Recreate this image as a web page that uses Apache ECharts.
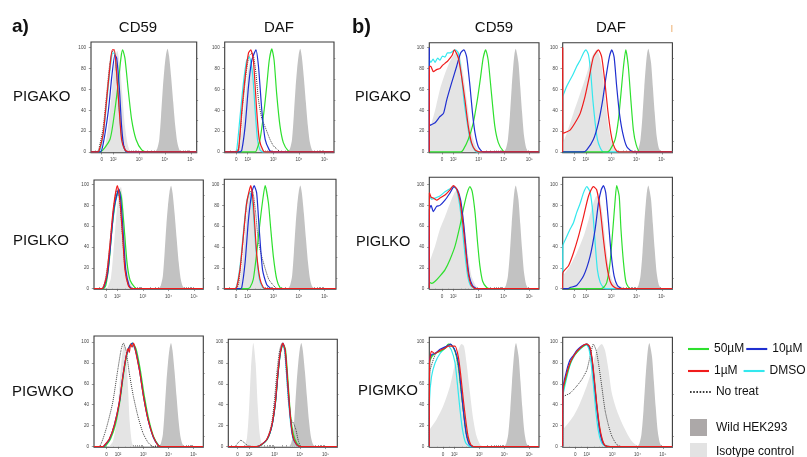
<!DOCTYPE html>
<html><head><meta charset="utf-8">
<script src="https://cdn.jsdelivr.net/npm/echarts@6/dist/echarts.min.js"></script>
<style>html,body{margin:0;padding:0;background:#fff}#c{width:807px;height:457px}</style>
</head><body><div id="c"></div><script>
// ---------- tick labels ----------
const xTickVals = [1.55, 2, 3, 4, 5];
const xTickText = ['0', '10²', '10³', '10⁴', '10⁵'];
const yTickVals = [0, 20, 40, 60, 80, 100];
const yMinorVals = [10, 30, 50, 70, 90];

// ---------- controls (shared shapes) ----------
const wildA_CD59 = [[3.62,0],[3.7,3],[3.78,12],[3.85,35],[3.92,62],[3.98,80],[4.04,93],[4.1,99],[4.16,92],[4.24,72],[4.32,48],[4.4,25],[4.48,9],[4.56,2],[4.65,0]];
const wildA_DAF = [[3.57,0],[3.65,3],[3.73,12],[3.8,35],[3.87,62],[3.93,80],[3.99,93],[4.05,99],[4.11,92],[4.19,72],[4.27,48],[4.35,25],[4.43,9],[4.51,2],[4.6,0]];
const wildB = [[4.0,0],[4.08,3],[4.16,12],[4.24,35],[4.31,62],[4.37,82],[4.42,94],[4.47,99],[4.52,94],[4.58,85],[4.65,62],[4.72,38],[4.8,15],[4.88,4],[4.96,0]];

// ---------- a) PIGAKO ----------
const aA_CD59_iso = [[1.55,0],[1.7,8],[1.85,35],[1.95,60],[2.05,85],[2.15,97],[2.25,85],[2.35,55],[2.45,25],[2.55,8],[2.65,0]];
const aA_CD59_nt = [[1.38,0],[1.45,4],[1.6,22],[1.73,52],[1.86,84],[1.95,96],[2.03,97],[2.12,78],[2.22,44],[2.32,15],[2.45,3],[2.6,0]];
const aA_CD59_dmso = [[1.42,0],[1.5,3],[1.63,20],[1.76,52],[1.89,83],[1.98,95],[2.06,94],[2.15,70],[2.25,35],[2.34,10],[2.47,1],[2.6,0]];
const aA_CD59_50 = [[1.48,0],[1.87,12],[2.06,40],[2.19,66],[2.3,91],[2.36,98],[2.45,90],[2.58,59],[2.71,31],[2.88,12],[3.1,2],[3.29,0]];
const aA_CD59_10 = [[1.5,0],[1.61,8],[1.81,40],[1.94,72],[2.06,93],[2.13,90],[2.23,63],[2.32,25],[2.41,5],[2.52,0]];
const aA_CD59_1 = [[1.4,0],[1.46,2],[1.61,18],[1.74,50],[1.87,82],[1.96,98],[2.04,98],[2.13,75],[2.23,40],[2.32,12],[2.45,2],[2.6,0]];

const aA_DAF_iso = [[1.55,0],[1.7,10],[1.85,40],[1.97,68],[2.08,85],[2.18,80],[2.28,55],[2.38,28],[2.5,8],[2.62,0]];
const aA_DAF_nt = [[1.55,0],[1.65,4],[1.78,38],[1.92,72],[2.05,92],[2.18,95],[2.3,80],[2.42,50],[2.55,32],[2.68,24],[2.87,12],[3.0,6],[3.13,3],[3.3,0]];
const aA_DAF_dmso = [[1.5,0],[1.57,2],[1.7,34],[1.83,66],[1.96,88],[2.06,91],[2.19,75],[2.29,40],[2.38,12],[2.48,2],[2.6,0]];
const aA_DAF_50 = [[2.3,0],[2.35,2],[2.48,12],[2.64,40],[2.74,63],[2.84,88],[2.94,99],[3.03,88],[3.13,56],[3.26,25],[3.39,9],[3.58,1],[3.7,0]];
const aA_DAF_10 = [[1.7,0],[1.77,2],[1.9,25],[2.03,63],[2.16,88],[2.32,98],[2.42,82],[2.55,40],[2.68,12],[2.84,2],[2.95,0]];
const aA_DAF_1 = [[1.55,0],[1.64,2],[1.77,40],[1.9,72],[2.03,95],[2.12,98],[2.22,88],[2.35,40],[2.45,12],[2.61,1],[2.7,0]];

// ---------- a) PIGLKO ----------
const aL_CD59_iso = [[1.6,0],[1.75,10],[1.88,45],[1.98,75],[2.08,94],[2.14,98],[2.22,85],[2.3,55],[2.4,22],[2.5,6],[2.62,0]];
const aL_CD59_nt = [[1.4,0],[1.5,5],[1.62,22],[1.74,50],[1.86,78],[1.98,95],[2.08,88],[2.2,52],[2.3,20],[2.42,4],[2.55,0]];
const aL_CD59_dmso = [[1.42,0],[1.52,4],[1.65,22],[1.78,55],[1.92,82],[2.04,92],[2.12,86],[2.22,52],[2.32,18],[2.45,3],[2.58,0]];
const aL_CD59_50 = [[1.45,0],[1.55,3],[1.68,25],[1.8,60],[1.95,88],[2.07,95],[2.16,88],[2.27,58],[2.38,25],[2.5,8],[2.69,1],[2.8,0]];
const aL_CD59_10 = [[1.42,0],[1.5,3],[1.62,14],[1.74,43],[1.87,77],[2.06,96],[2.14,84],[2.24,50],[2.33,18],[2.46,3],[2.58,0]];
const aL_CD59_1 = [[1.4,0],[1.45,1],[1.58,12],[1.71,41],[1.84,76],[2.0,99],[2.1,85],[2.21,50],[2.3,18],[2.43,3],[2.55,0]];

const aL_DAF_iso = [[1.6,0],[1.72,10],[1.85,40],[1.97,72],[2.08,90],[2.18,85],[2.28,60],[2.38,30],[2.5,8],[2.62,0]];
const aL_DAF_nt = [[1.55,0],[1.65,5],[1.78,35],[1.92,72],[2.05,92],[2.18,94],[2.3,75],[2.42,45],[2.58,28],[2.82,9],[3.08,1],[3.2,0]];
const aL_DAF_dmso = [[1.5,0],[1.58,3],[1.72,25],[1.85,58],[1.97,85],[2.09,92],[2.2,80],[2.32,38],[2.45,10],[2.58,1],[2.7,0]];
const aL_DAF_50 = [[2.0,0],[2.09,1],[2.22,9],[2.35,34],[2.45,57],[2.57,82],[2.68,99],[2.81,82],[2.9,57],[3.0,31],[3.13,9],[3.26,1],[3.4,0]];
const aL_DAF_10 = [[1.7,0],[1.77,1],[1.9,25],[2.03,66],[2.16,92],[2.25,99],[2.35,92],[2.45,57],[2.58,18],[2.74,4],[2.94,0]];
const aL_DAF_1 = [[1.5,0],[1.57,1],[1.7,18],[1.83,50],[1.96,82],[2.12,99],[2.22,82],[2.35,34],[2.48,9],[2.61,1],[2.7,0]];

// ---------- a) PIGWKO ----------
const aW_CD59_iso = [[1.65,0],[1.8,5],[1.95,25],[2.05,55],[2.15,85],[2.25,99],[2.33,85],[2.4,55],[2.47,22],[2.55,4],[2.62,0]];
const aW_CD59_nt = [[1.25,0],[1.52,16],[1.79,42],[1.99,73],[2.12,92],[2.21,99],[2.32,92],[2.45,70],[2.61,48],[2.79,29],[2.99,13],[3.19,4],[3.39,0]];
const aW_CD59_dmso = [[1.4,0],[1.5,2],[1.68,8],[1.87,21],[2.06,43],[2.2,68],[2.33,86],[2.46,95],[2.56,98],[2.7,91],[2.86,72],[3.02,47],[3.2,25],[3.4,9],[3.6,1],[3.7,0]];
const aW_CD59_50 = [[1.45,0],[1.52,1],[1.7,7],[1.9,21],[2.08,44],[2.22,69],[2.35,88],[2.48,97],[2.58,99],[2.72,93],[2.88,74],[3.04,49],[3.22,26],[3.42,9],[3.62,1],[3.72,0]];
const aW_CD59_10 = [[1.4,0],[1.47,1],[1.66,7],[1.86,21],[2.06,43],[2.2,68],[2.33,87],[2.46,96],[2.57,99],[2.7,92],[2.86,72],[3.02,47],[3.2,25],[3.4,9],[3.6,1],[3.7,0]];
const aW_CD59_1 = [[1.4,0],[1.45,1],[1.65,7],[1.85,20],[2.05,42],[2.19,67],[2.32,86],[2.4,94],[2.45,90],[2.5,98],[2.56,95],[2.62,99],[2.69,92],[2.85,73],[3.01,48],[3.19,26],[3.39,10],[3.59,1],[3.7,0]];

const aW_DAF_iso = [[1.82,0],[1.92,8],[2.0,35],[2.08,75],[2.17,99],[2.26,80],[2.34,40],[2.42,12],[2.5,2],[2.58,0]];
const aW_DAF_nt = [[1.45,0],[1.55,3],[1.68,6],[1.8,4],[1.95,1],[2.2,0],[2.45,1],[2.7,7],[2.89,22],[3.0,45],[3.1,72],[3.2,92],[3.3,99],[3.38,94],[3.46,72],[3.55,42],[3.65,26],[3.75,22],[3.84,16],[3.94,5],[4.05,0]];
const aW_DAF_dmso = [[2.3,0],[2.44,1],[2.71,7],[2.9,20],[3.04,43],[3.13,68],[3.23,90],[3.32,98],[3.41,90],[3.5,60],[3.61,27],[3.71,9],[3.85,2],[4.0,0]];
const aW_DAF_50 = [[2.3,0],[2.45,1],[2.72,7],[2.9,20],[3.04,42],[3.13,67],[3.23,89],[3.34,98],[3.43,93],[3.52,66],[3.62,32],[3.74,12],[3.88,3],[4.02,0]];
const aW_DAF_10 = [[2.3,0],[2.44,1],[2.71,7],[2.9,20],[3.04,43],[3.13,68],[3.23,90],[3.33,99],[3.42,91],[3.51,62],[3.62,28],[3.72,9],[3.86,2],[4.0,0]];
const aW_DAF_1 = [[2.3,0],[2.43,1],[2.7,7],[2.89,20],[3.03,42],[3.12,67],[3.22,89],[3.33,99],[3.42,92],[3.51,64],[3.62,29],[3.72,10],[3.86,2],[4.0,0]];

// ---------- b) PIGAKO ----------
const bA_CD59_iso = [[1.05,20],[1.28,40],[1.47,60],[1.67,75],[1.87,87],[2.07,95],[2.2,96],[2.39,75],[2.53,50],[2.66,28],[2.79,12],[2.92,4],[3.05,0]];
const bA_CD59_dmso = [[1.05,0],[1.055,88],[1.11,86],[1.2,89],[1.28,86],[1.38,90],[1.47,88],[1.57,92],[1.67,91],[1.77,95],[1.87,95],[2.0,97],[2.07,98],[2.2,95],[2.33,72],[2.42,50],[2.53,31],[2.66,12],[2.79,4],[2.92,0]];
const bA_CD59_50 = [[2.3,0],[2.39,2],[2.59,12],[2.79,28],[2.95,50],[3.08,72],[3.18,90],[3.28,98],[3.38,88],[3.51,56],[3.64,25],[3.78,9],[3.97,1],[4.1,0]];
const bA_CD59_10 = [[1.05,0],[1.051,100],[1.056,25],[1.11,26],[1.28,28],[1.47,34],[1.61,37],[1.74,50],[1.93,66],[2.13,82],[2.29,95],[2.42,98],[2.53,91],[2.66,63],[2.76,37],[2.86,18],[2.99,5],[3.18,0]];
const bA_CD59_1 = [[1.05,0],[1.055,82],[1.11,82],[1.21,77],[1.34,79],[1.47,80],[1.57,83],[1.67,85],[1.77,87],[1.87,90],[1.96,93],[2.04,98],[2.2,90],[2.33,72],[2.46,50],[2.59,25],[2.72,9],[2.86,2],[3.05,0]];

const bA_DAF_iso = [[1.09,8],[1.25,18],[1.51,37],[1.78,56],[2.04,75],[2.24,91],[2.43,98],[2.63,82],[2.76,53],[2.89,25],[3.03,9],[3.16,2],[3.3,0]];
const bA_DAF_dmso = [[1.09,0],[1.095,53],[1.12,55],[1.25,63],[1.38,69],[1.51,75],[1.64,82],[1.78,88],[1.91,95],[2.01,98],[2.11,93],[2.2,75],[2.28,50],[2.37,28],[2.46,12],[2.57,4],[2.7,0]];
const bA_DAF_50 = [[2.85,0],[2.96,2],[3.16,12],[3.29,31],[3.39,56],[3.49,82],[3.58,98],[3.68,82],[3.78,50],[3.88,21],[3.99,7],[4.14,0]];
const bA_DAF_10 = [[1.9,0],[2.04,2],[2.3,12],[2.5,28],[2.67,50],[2.8,72],[2.93,91],[3.03,98],[3.12,91],[3.22,63],[3.33,37],[3.46,18],[3.62,5],[3.88,0]];
const bA_DAF_1 = [[1.09,0],[1.091,100],[1.12,18],[1.38,21],[1.58,28],[1.78,37],[1.97,53],[2.14,72],[2.3,91],[2.5,98],[2.63,91],[2.76,66],[2.87,40],[2.99,18],[3.09,7],[3.22,1],[3.42,0]];

// ---------- b) PIGLKO ----------
const bL_CD59_iso = [[1.05,25],[1.28,41],[1.47,57],[1.67,69],[1.87,82],[2.07,93],[2.2,95],[2.33,82],[2.46,57],[2.59,31],[2.72,12],[2.86,4],[2.99,0]];
const bL_CD59_dmso = [[1.05,0],[1.055,89],[1.15,86],[1.28,87],[1.47,89],[1.67,93],[1.87,96],[2.0,98],[2.13,95],[2.26,79],[2.36,57],[2.47,31],[2.57,12],[2.68,3],[2.86,0]];
const bL_CD59_50 = [[1.05,0],[1.055,6],[1.15,5],[1.28,7],[1.47,12],[1.67,18],[1.87,28],[2.07,41],[2.26,60],[2.42,79],[2.55,92],[2.66,98],[2.75,93],[2.86,73],[2.96,44],[3.05,22],[3.16,7],[3.32,1],[3.45,0]];
const bL_CD59_10 = [[1.05,0],[1.055,76],[1.12,80],[1.21,74],[1.34,79],[1.47,80],[1.67,85],[1.87,92],[2.03,98],[2.16,95],[2.29,85],[2.42,60],[2.53,31],[2.63,12],[2.76,3],[2.92,0]];
const bL_CD59_1 = [[1.05,0],[1.055,92],[1.12,88],[1.21,87],[1.34,85],[1.47,87],[1.67,90],[1.87,95],[2.0,99],[2.13,96],[2.26,85],[2.39,60],[2.5,34],[2.59,15],[2.7,4],[2.86,0]];

const bL_DAF_iso = [[1.09,12],[1.38,22],[1.64,34],[1.91,50],[2.11,66],[2.3,82],[2.43,89],[2.57,85],[2.7,63],[2.83,34],[2.96,15],[3.09,6],[3.29,3],[3.62,0]];
const bL_DAF_dmso = [[1.09,0],[1.095,41],[1.25,50],[1.38,57],[1.51,63],[1.64,73],[1.78,82],[1.91,92],[2.04,98],[2.17,93],[2.28,73],[2.37,44],[2.46,18],[2.57,6],[2.7,1],[2.8,0]];
const bL_DAF_50 = [[2.6,0],[2.7,1],[2.83,6],[2.96,25],[3.07,57],[3.16,85],[3.22,99],[3.32,89],[3.39,57],[3.49,25],[3.59,6],[3.75,0]];
const bL_DAF_10 = [[1.3,0],[1.38,1],[1.64,3],[1.91,12],[2.17,31],[2.37,57],[2.5,82],[2.61,95],[2.7,99],[2.79,92],[2.89,66],[3.0,34],[3.12,12],[3.25,3],[3.42,0]];
const bL_DAF_1 = [[1.09,0],[1.095,15],[1.32,22],[1.51,34],[1.71,50],[1.91,69],[2.11,89],[2.3,98],[2.43,95],[2.57,76],[2.7,47],[2.83,22],[2.96,7],[3.09,2],[3.29,0]];

// ---------- b) PIGMKO ----------
const bM_CD59_iso = [[1.0,16],[1.29,26],[1.56,39],[1.83,58],[2.03,80],[2.16,92],[2.29,98],[2.39,96],[2.49,80],[2.63,51],[2.76,26],[2.89,10],[3.03,2],[3.16,0]];
const bM_CD59_nt = [[1.0,0],[1.01,70],[1.13,81],[1.26,89],[1.45,92],[1.65,95],[1.8,97],[1.93,96],[2.05,90],[2.17,76],[2.28,52],[2.4,27],[2.5,10],[2.63,2],[2.76,0]];
const bM_CD59_dmso = [[1.0,0],[1.01,45],[1.09,67],[1.23,80],[1.43,89],[1.63,94],[1.76,96],[1.89,92],[2.03,80],[2.12,61],[2.23,35],[2.33,16],[2.45,4],[2.63,0]];
const bM_CD59_50 = [[1.0,0],[1.01,80],[1.1,86],[1.23,89],[1.43,91],[1.63,94],[1.76,98],[1.89,97],[2.03,91],[2.16,77],[2.27,54],[2.39,29],[2.49,12],[2.63,2],[2.76,0]];
const bM_CD59_10 = [[1.0,0],[1.01,83],[1.1,88],[1.23,89],[1.43,93],[1.69,96],[1.85,98],[2.03,92],[2.16,80],[2.25,61],[2.36,35],[2.47,13],[2.6,2],[2.76,0]];
const bM_CD59_1 = [[1.0,0],[1.01,80],[1.09,91],[1.23,89],[1.43,92],[1.63,94],[1.76,96],[1.89,96],[2.03,96],[2.16,86],[2.25,70],[2.36,45],[2.47,23],[2.56,9],[2.69,1],[2.89,0]];

const bM_DAF_iso = [[1.05,16],[1.47,29],[1.74,42],[2.0,58],[2.2,73],[2.39,92],[2.59,98],[2.72,92],[2.86,73],[2.99,51],[3.18,35],[3.38,23],[3.58,13],[3.78,5],[3.97,1],[4.11,0]];
const bM_DAF_nt = [[1.05,0],[1.06,47],[1.34,51],[1.61,58],[1.8,64],[2.0,73],[2.13,86],[2.26,98],[2.37,92],[2.46,80],[2.59,58],[2.72,35],[2.86,20],[2.99,10],[3.18,2],[3.38,0]];
const bM_DAF_dmso = [[1.05,0],[1.06,48],[1.21,66],[1.34,78],[1.47,85],[1.61,90],[1.74,93],[1.87,96],[2.0,97],[2.09,93],[2.17,80],[2.26,60],[2.35,36],[2.45,16],[2.56,5],[2.68,1],[2.85,0]];
const bM_DAF_50 = [[1.05,0],[1.06,52],[1.21,68],[1.34,79],[1.47,86],[1.61,90],[1.74,94],[1.87,96],[2.0,98],[2.11,95],[2.2,84],[2.29,65],[2.39,40],[2.5,18],[2.61,6],[2.72,1],[2.92,0]];
const bM_DAF_10 = [[1.05,0],[1.06,56],[1.21,73],[1.34,83],[1.47,87],[1.61,92],[1.74,95],[1.87,97],[2.0,98],[2.11,95],[2.2,84],[2.29,64],[2.39,39],[2.5,17],[2.61,5],[2.72,1],[2.92,0]];
const bM_DAF_1 = [[1.05,0],[1.06,54],[1.21,70],[1.34,80],[1.47,86],[1.61,91],[1.74,94],[1.87,97],[2.0,98],[2.11,96],[2.2,86],[2.29,67],[2.39,42],[2.5,20],[2.61,7],[2.72,1],[2.92,0]];

// ---------- panel membership (data references) ----------
const panelCurves = [
  [aA_CD59_iso, wildA_CD59, aA_CD59_nt, aA_CD59_dmso, aA_CD59_50, aA_CD59_10, aA_CD59_1],
  [aA_DAF_iso, wildA_DAF, aA_DAF_nt, aA_DAF_dmso, aA_DAF_50, aA_DAF_10, aA_DAF_1],
  [aL_CD59_iso, wildA_CD59, aL_CD59_nt, aL_CD59_dmso, aL_CD59_50, aL_CD59_10, aL_CD59_1],
  [aL_DAF_iso, wildA_DAF, aL_DAF_nt, aL_DAF_dmso, aL_DAF_50, aL_DAF_10, aL_DAF_1],
  [aW_CD59_iso, wildA_CD59, aW_CD59_nt, aW_CD59_dmso, aW_CD59_50, aW_CD59_10, aW_CD59_1],
  [aW_DAF_iso, wildA_DAF, aW_DAF_nt, aW_DAF_dmso, aW_DAF_50, aW_DAF_10, aW_DAF_1],
  [bA_CD59_iso, wildB, null, bA_CD59_dmso, bA_CD59_50, bA_CD59_10, bA_CD59_1],
  [bA_DAF_iso, wildB, null, bA_DAF_dmso, bA_DAF_50, bA_DAF_10, bA_DAF_1],
  [bL_CD59_iso, wildB, null, bL_CD59_dmso, bL_CD59_50, bL_CD59_10, bL_CD59_1],
  [bL_DAF_iso, wildB, null, bL_DAF_dmso, bL_DAF_50, bL_DAF_10, bL_DAF_1],
  [bM_CD59_iso, wildB, bM_CD59_nt, bM_CD59_dmso, bM_CD59_50, bM_CD59_10, bM_CD59_1],
  [bM_DAF_iso, wildB, bM_DAF_nt, bM_DAF_dmso, bM_DAF_50, bM_DAF_10, bM_DAF_1]
];
const seriesNames = ['Isotype control', 'Wild HEK293', 'No treat', 'DMSO', '50µM', '10µM', '1µM'];

// ---------- layout & styles ----------
const layout = [
  {l:91, t:42, w:105.7, h:110.7, x0:1.136, x1:5.23, y1:105.5},
  {l:224.7, t:42, w:109.3, h:110.7, x0:1.10, x1:5.37, y1:105.5},
  {l:94, t:180, w:109.3, h:109.3, x0:1.09, x1:5.36, y1:104.5},
  {l:224.3, t:179.3, w:111.7, h:110, x0:1.09, x1:5.44, y1:105},
  {l:94, t:336, w:109.3, h:111.3, x0:1.05, x1:5.38, y1:105.7},
  {l:228.3, t:339.3, w:109, h:108, x0:1.19, x1:5.46, y1:102.6},
  {l:429.3, t:42.7, w:109.7, h:110, x0:1.05, x1:5.39, y1:104.8},
  {l:562.7, t:42.7, w:109.7, h:110, x0:1.09, x1:5.42, y1:104.8},
  {l:429.3, t:177.3, w:109.7, h:112, x0:1.05, x1:5.39, y1:107},
  {l:562.7, t:177.3, w:109.7, h:112, x0:1.09, x1:5.42, y1:107},
  {l:429.3, t:337.3, w:109.7, h:110, x0:1.0, x1:5.39, y1:104.5},
  {l:562.7, t:337.3, w:109.7, h:110, x0:1.05, x1:5.38, y1:104.5}
];
const seriesStyle = {
  'Isotype control': {fill:'#e4e4e4'},
  'Wild HEK293': {fill:'#c2c2c2'},
  'No treat': {color:'#3a3a3a', type:'dotted', width:1},
  'DMSO': {color:'#33e8ee', type:'solid', width:1.2},
  '50µM': {color:'#2ee02e', type:'solid', width:1.2},
  '10µM': {color:'#1f2fd0', type:'solid', width:1.2},
  '1µM': {color:'#f01c1c', type:'solid', width:1.2}
};
const FONT = '"Liberation Sans", Arial, sans-serif';

const xMinor = [];
for (let n = 2; n <= 4; n++) for (let k = 2; k <= 9; k++) xMinor.push(n + Math.log10(k));
xMinor.push(1.3, 1.8);

const grid = [], xAxis = [], yAxis = [], series = [];
layout.forEach((p, i) => {
  grid.push({left:p.l, top:p.t, width:p.w, height:p.h, show:true, borderColor:'#3a3a3a', borderWidth:1.1,
             backgroundColor:'#fff', containLabel:false, outerBoundsMode:'none'});
  const tickStyle = {color:'#555', width:0.6};
  xAxis.push({type:'value', gridIndex:i, min:p.x0, max:p.x1, axisLine:{show:false}, splitLine:{show:false},
    axisTick:{show:true, customValues:xTickVals, length:2.5, lineStyle:tickStyle},
    axisLabel:{customValues:xTickVals, fontSize:4.6, color:'#444', margin:5, fontFamily:FONT,
      formatter: v => { const k = xTickVals.findIndex(t => Math.abs(t - v) < 1e-6); return k >= 0 ? xTickText[k] : ''; }}});
  xAxis.push({type:'value', gridIndex:i, min:p.x0, max:p.x1, axisLine:{show:false}, splitLine:{show:false},
    axisTick:{show:true, customValues:xMinor, length:1.5, lineStyle:tickStyle}, axisLabel:{show:false}});
  yAxis.push({type:'value', gridIndex:i, min:-0.7, max:p.y1, axisLine:{show:false}, splitLine:{show:false},
    axisTick:{show:true, customValues:yTickVals, length:2.2, lineStyle:tickStyle},
    axisLabel:{customValues:yTickVals, fontSize:4.6, color:'#444', margin:5, fontFamily:FONT}});
  yAxis.push({type:'value', gridIndex:i, min:-0.7, max:p.y1, axisLine:{show:false}, splitLine:{show:false},
    axisTick:{show:true, customValues:yMinorVals, length:1.4, lineStyle:tickStyle}, axisLabel:{show:false}});

  panelCurves[i].forEach((d, j) => {
    if (!d) return;
    const name = seriesNames[j];
    const st = seriesStyle[name];
    if (st.fill) {
      series.push({type:'line', name, xAxisIndex:2*i, yAxisIndex:2*i, data:d, symbol:'none', smooth:0.25,
        color:st.fill, itemStyle:{color:st.fill}, lineStyle:{width:0}, areaStyle:{color:st.fill, opacity:1},
        silent:true, z:1});
    } else {
      const padded = d.slice();
      if (padded[0][0] > p.x0) padded.unshift([p.x0, 0]);
      if (padded[padded.length-1][0] < p.x1) padded.push([p.x1, 0]);
      series.push({type:'line', name, xAxisIndex:2*i, yAxisIndex:2*i, data:padded, symbol:'none', smooth:0.2,
        color:st.color, itemStyle:{color:st.color}, lineStyle:{color:st.color, width:st.width, type:st.type},
        silent:true, z:2});
    }
  });
});

const lineIcon = 'path://M0,0H20V2H0Z';
const dotIcon = 'path://M0,0h1.6v2h-1.6zM3.2,0h1.6v2h-1.6zM6.4,0h1.6v2h-1.6zM9.6,0h1.6v2h-1.6zM12.8,0h1.6v2h-1.6zM16,0h1.6v2h-1.6zM19.2,0h1.6v2h-1.6z';
const legTxt = {fontSize:12, color:'#111', fontFamily:FONT};
const legend = [
  {data:['50µM','10µM'], left:688, top:343, width:200, orient:'horizontal', itemWidth:21, itemHeight:2.4, icon:lineIcon, itemGap:2, textStyle:legTxt, selectedMode:false, itemStyle:{borderWidth:0}, padding:0},
  {data:['1µM','DMSO'], left:688, top:365, width:200, orient:'horizontal', itemWidth:21, itemHeight:2.4, icon:lineIcon, itemGap:6, textStyle:legTxt, selectedMode:false, itemStyle:{borderWidth:0}, padding:0},
  {data:['No treat'], left:690, top:386, width:200, itemWidth:21, itemHeight:2, icon:dotIcon, textStyle:legTxt, selectedMode:false, itemStyle:{borderWidth:0}, padding:0},
  {data:[{name:'Wild HEK293', itemStyle:{color:'#aca8a8'}}], left:690, top:419, width:200, itemWidth:17, itemHeight:17, icon:'rect', textStyle:Object.assign({padding:[0,0,0,4]}, legTxt), selectedMode:false, itemStyle:{borderWidth:0}, padding:0},
  {data:[{name:'Isotype control', itemStyle:{color:'#e3e3e3'}}], left:690, top:443, width:200, itemWidth:17, itemHeight:17, icon:'rect', textStyle:Object.assign({padding:[0,0,0,4]}, legTxt), selectedMode:false, itemStyle:{borderWidth:0}, padding:0}
];

const txt = (text, x, y, size, align, bold, fill) => ({type:'text', x, y, silent:true,
  style:{text, x:0, y:0, fill:fill || '#111', font:(bold ? 'bold ' : '') + size + 'px ' + FONT, align, verticalAlign:'middle'}});
const graphic = [
  txt('a)', 12, 27, 19, 'left', true),
  txt('CD59', 138, 28, 15, 'center'),
  txt('DAF', 279, 28, 15, 'center'),
  txt('b)', 352, 27, 20, 'left', true),
  txt('CD59', 494, 28, 15, 'center'),
  txt('DAF', 611, 28, 15, 'center'),
  txt('|', 672, 28, 7, 'center', false, '#e07a12'),
  txt('PIGAKO', 13, 97, 15, 'left'),
  txt('PIGLKO', 13, 241, 15, 'left'),
  txt('PIGWKO', 12, 392, 15, 'left'),
  txt('PIGAKO', 355, 97, 14.6, 'left'),
  txt('PIGLKO', 356, 242, 14.6, 'left'),
  txt('PIGMKO', 358, 391, 15, 'left')
];

const chart = echarts.init(document.getElementById('c'), null, {renderer:'canvas'});
chart.setOption({animation:false, backgroundColor:'#fff', grid, xAxis, yAxis, series, legend, graphic, tooltip:{show:false}});
</script></body></html>
